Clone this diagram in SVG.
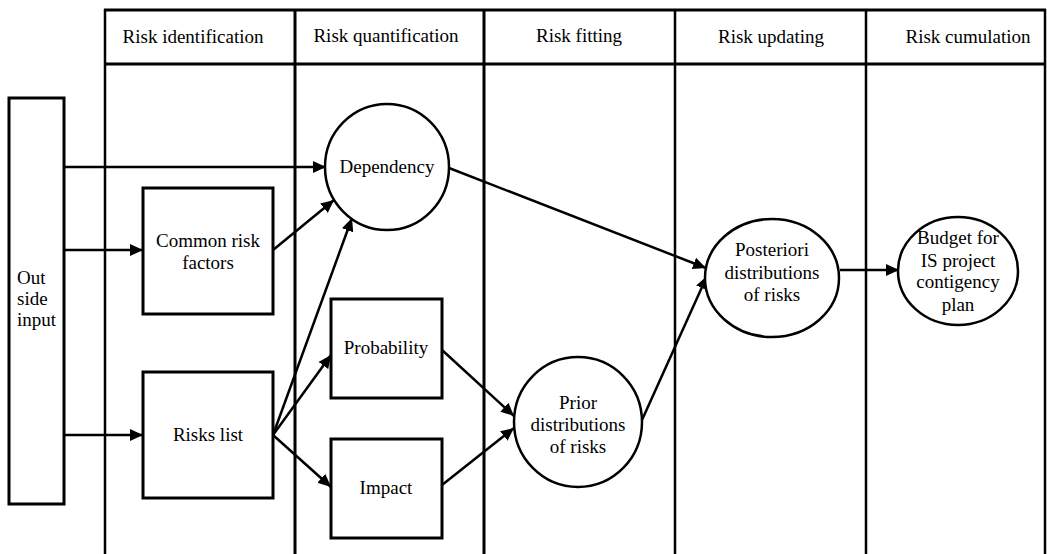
<svg xmlns="http://www.w3.org/2000/svg" width="1047" height="554" viewBox="0 0 1047 554">
<style>
text{font-family:"Liberation Serif","Times New Roman",serif;font-size:19px;fill:#000}
.c{text-anchor:middle}
.grid{stroke:#000;fill:none}
.box{fill:#fff;stroke:#000;stroke-width:3}
.circ{fill:#fff;stroke:#000;stroke-width:2.5}
.con{stroke:#000;stroke-width:2.5;fill:none;marker-end:url(#ah)}
</style>
<defs>
<marker id="ah" markerUnits="userSpaceOnUse" markerWidth="14" markerHeight="14" viewBox="0 0 14 14" refX="13" refY="7" orient="auto">
<path d="M0,1 L13,7 L0,13 Z" fill="#000"/>
</marker>
</defs>
<rect width="1047" height="554" fill="#fff"/>
<g id="table">
<line class="grid" x1="104" y1="10" x2="1046" y2="10" stroke-width="3"/>
<line class="grid" x1="104" y1="64" x2="1046" y2="64" stroke-width="3"/>
<line class="grid" x1="105" y1="9" x2="105" y2="554" stroke-width="2.5"/>
<line class="grid" x1="295" y1="9" x2="295" y2="554" stroke-width="3"/>
<line class="grid" x1="484" y1="9" x2="484" y2="554" stroke-width="3"/>
<line class="grid" x1="675" y1="9" x2="675" y2="554" stroke-width="2.5"/>
<line class="grid" x1="866" y1="9" x2="866" y2="554" stroke-width="2.5"/>
<line class="grid" x1="1045" y1="9" x2="1045" y2="554" stroke-width="2.5"/>
<text class="c" x="193" y="43">Risk identification</text>
<text class="c" x="386" y="42">Risk quantification</text>
<text class="c" x="579" y="42">Risk fitting</text>
<text class="c" x="771" y="43">Risk updating</text>
<text class="c" x="968" y="43">Risk cumulation</text>
</g>
<g id="connectors">
<line class="con" x1="64" y1="167" x2="326" y2="167"/>
<line class="con" x1="64" y1="250" x2="143" y2="250"/>
<line class="con" x1="64" y1="435" x2="143" y2="435"/>
<line class="con" x1="273" y1="250" x2="334" y2="200"/>
<line class="con" x1="273" y1="435" x2="352" y2="218"/>
<line class="con" x1="273" y1="435" x2="331" y2="355"/>
<line class="con" x1="273" y1="435" x2="331" y2="487"/>
<line class="con" x1="449" y1="168" x2="706" y2="268"/>
<line class="con" x1="442" y1="350" x2="514" y2="416"/>
<line class="con" x1="442" y1="485" x2="514" y2="428"/>
<line class="con" x1="642" y1="420" x2="707" y2="276"/>
<line class="con" x1="840" y1="270" x2="899" y2="270"/>
</g>
<g id="outside-input">
<rect class="box" x="9" y="98" width="55" height="406"/>
<text x="17" y="284">Out</text>
<text x="17" y="305">side</text>
<text x="17" y="326">input</text>
</g>
<g id="common-risk-factors">
<rect class="box" x="143" y="188" width="130" height="126"/>
<text class="c" x="208" y="247">Common risk</text>
<text class="c" x="208" y="269">factors</text>
</g>
<g id="risks-list">
<rect class="box" x="143" y="372" width="130" height="126"/>
<text class="c" x="208" y="441">Risks list</text>
</g>
<g id="dependency">
<ellipse class="circ" cx="387" cy="167" rx="62" ry="63"/>
<text class="c" x="387" y="173">Dependency</text>
</g>
<g id="probability">
<rect class="box" x="331" y="299" width="111" height="99"/>
<text class="c" x="386" y="354">Probability</text>
</g>
<g id="impact">
<rect class="box" x="331" y="439" width="111" height="99"/>
<text class="c" x="386" y="494">Impact</text>
</g>
<g id="prior">
<ellipse class="circ" cx="578" cy="422" rx="64" ry="65"/>
<text class="c" x="578" y="409">Prior</text>
<text class="c" x="578" y="431">distributions</text>
<text class="c" x="578" y="453">of risks</text>
</g>
<g id="posteriori">
<ellipse class="circ" cx="772" cy="278" rx="67" ry="59"/>
<text class="c" x="772" y="256">Posteriori</text>
<text class="c" x="772" y="279">distributions</text>
<text class="c" x="772" y="301">of risks</text>
</g>
<g id="budget">
<ellipse class="circ" cx="958" cy="271" rx="60" ry="54"/>
<text class="c" x="958" y="244">Budget for</text>
<text class="c" x="958" y="267">IS project</text>
<text class="c" x="958" y="288">contigency</text>
<text class="c" x="958" y="311">plan</text>
</g>
</svg>
